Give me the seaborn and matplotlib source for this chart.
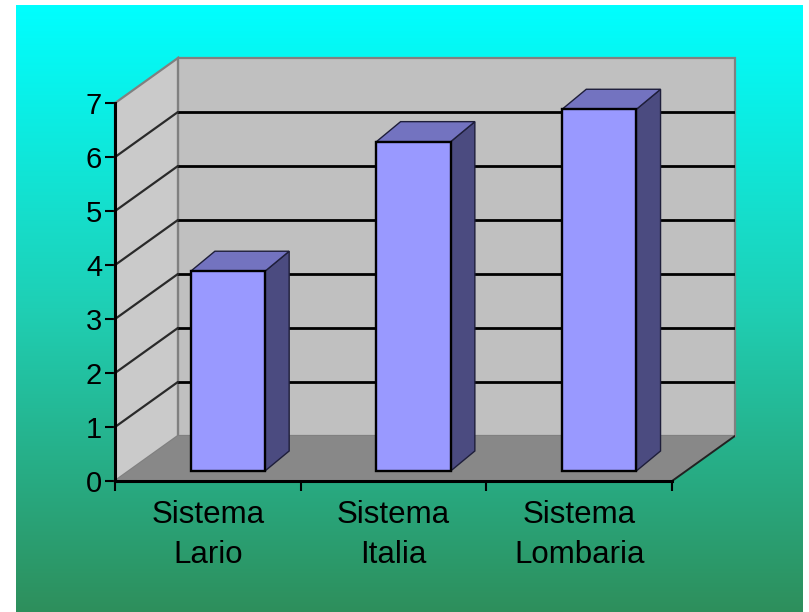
import numpy as np
import matplotlib
matplotlib.use("Agg")
import matplotlib.pyplot as plt
import matplotlib.colors as mcolors
from matplotlib.patches import Polygon, Rectangle
import seaborn as sns

# ── Data ──────────────────────────────────────────────────────────────────
categories = ["Sistema\nLario", "Sistema\nItalia", "Sistema\nLombaria"]
values = [3.7, 6.1, 6.7]
y_ticks = [0, 1, 2, 3, 4, 5, 6, 7]

# ── Style ─────────────────────────────────────────────────────────────────
sns.set_theme(style="white")
plt.rcParams["font.family"] = ["Liberation Sans", "DejaVu Sans"]

FRONT = "#9999ff"
SIDE = "#4b4b80"
TOP = "#7373c0"
BACK_WALL = "#c0c0c0"
SIDE_WALL = "#cacaca"
FLOOR = "#888888"
EDGE_GREY = "#808080"

# oblique depth of the "3D" box (data units) and of each bar
DX, DY = 0.339, 0.835
BAR_OX, BAR_OY = 0.108, 0.186
BAR_DX, BAR_DY = 0.13, 0.37

fig = plt.figure(figsize=(8.09, 6.12), dpi=100, facecolor="white")

# gradient background (cyan -> sea green)
bg = fig.add_axes([16 / 809, 0, (803 - 16) / 809, (612 - 5) / 612], zorder=0)
grad = mcolors.LinearSegmentedColormap.from_list("bg", ["#00ffff", "#1fcfb4", "#2e8f5c"])
bg.imshow(np.linspace(0, 1, 256)[:, None], aspect="auto", cmap=grad,
          extent=[0, 1, 0, 1], origin="upper")
bg.axis("off")

ax = fig.add_axes([115 / 809, (612 - 481) / 612, (735 - 115) / 809, (481 - 58) / 612],
                  zorder=1)
ax.patch.set_alpha(0)

x0, x1 = -0.5, len(categories) - 0.5
y_top = y_ticks[-1]

# walls and floor
ax.add_patch(Rectangle((x0 + DX, DY), x1 - x0, y_top, facecolor=BACK_WALL,
                       edgecolor=EDGE_GREY, lw=1.6, zorder=1, clip_on=False))
ax.add_patch(Polygon([(x0, 0), (x0, y_top), (x0 + DX, y_top + DY), (x0 + DX, DY)],
                     closed=True, facecolor=SIDE_WALL, edgecolor=EDGE_GREY,
                     lw=1.6, zorder=1, clip_on=False))
ax.add_patch(Polygon([(x0, 0), (x1, 0), (x1 + DX, DY), (x0 + DX, DY)],
                     closed=True, facecolor=FLOOR, edgecolor="none", zorder=2,
                     clip_on=False))
ax.plot([x1, x1 + DX], [0, DY], color="#222222", lw=1.4, zorder=2)

for v in y_ticks[1:-1]:
    ax.plot([x0 + DX, x1 + DX], [v + DY, v + DY], color="black", lw=2, zorder=3)
    ax.plot([x0, x0 + DX], [v, v + DY], color="#2a2a2a", lw=1.6, zorder=3)

# bars
sns.barplot(x=categories, y=values, width=0.4, color=FRONT, saturation=1,
            edgecolor="black", linewidth=1.7, ax=ax, zorder=6)

for p in ax.patches:
    if p.get_facecolor()[:3] != mcolors.to_rgb(FRONT):
        continue
    p.set_x(p.get_x() + BAR_OX)
    p.set_y(BAR_OY)
    x, w, h = p.get_x(), p.get_width(), p.get_height()
    yb = BAR_OY
    side = [(x + w, yb), (x + w + BAR_DX, yb + BAR_DY),
            (x + w + BAR_DX, yb + h + BAR_DY), (x + w, yb + h)]
    top = [(x, yb + h), (x + BAR_DX, yb + h + BAR_DY),
           (x + w + BAR_DX, yb + h + BAR_DY), (x + w, yb + h)]
    ax.add_patch(Polygon(side, closed=True, facecolor=SIDE, edgecolor="#1e1e3a",
                         lw=1.0, zorder=4))
    ax.add_patch(Polygon(top, closed=True, facecolor=TOP, edgecolor="#1e1e3a",
                         lw=1.0, zorder=4))

ax.set_xlim(x0, x1 + DX)
ax.set_ylim(0, y_top + DY)

# axes
for s in ["top", "right"]:
    ax.spines[s].set_visible(False)
for s in ["left", "bottom"]:
    ax.spines[s].set_color("black")
    ax.spines[s].set_linewidth(2.2)
    ax.spines[s].set_zorder(7)
ax.spines["left"].set_bounds(0, y_top)
ax.spines["bottom"].set_bounds(x0, x1)

ax.set_yticks(y_ticks)
ax.set_yticklabels([str(t) for t in y_ticks])
ax.tick_params(axis="y", direction="out", length=7.2, width=1.5, color="black",
               labelsize=21, pad=2, left=True, labelcolor="black")
ax.set_xticks(range(len(categories)))
ax.set_xticklabels(categories, linespacing=1.43)
ax.set_xticks(np.arange(x0, x1 + 0.01, 1.0), minor=True)
ax.tick_params(axis="x", which="major", length=0, labelsize=22.5, pad=14,
               labelcolor="black")
ax.tick_params(axis="x", which="minor", direction="out", length=7.2, width=1.5,
               color="black", bottom=True)
ax.set_xlabel("")
ax.set_ylabel("")
ax.grid(False)

fig.savefig("out.png", dpi=100, facecolor="white")
